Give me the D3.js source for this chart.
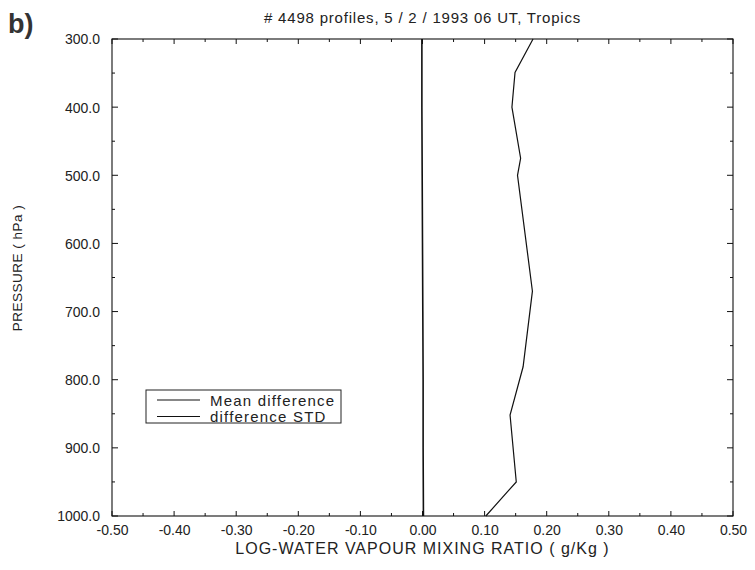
<!DOCTYPE html>
<html><head><meta charset="utf-8">
<script src="https://cdn.jsdelivr.net/npm/d3@7"></script>
<style>body{margin:0;background:#fff}svg{display:block}text{font-family:"Liberation Sans",Arial,sans-serif}</style>
</head><body>
<svg id="c" width="755" height="570"></svg>
<script>
const title = "# 4498 profiles, 5 / 2 / 1993 06 UT, Tropics";
const xTicks = [-0.5,-0.4,-0.3,-0.2,-0.1,0.0,0.1,0.2,0.3,0.4,0.5];
const yTicks = [300,400,500,600,700,800,900,1000];
const meanP = [300,400,500,600,700,800,900,1000];
const meanV = [-0.001,-0.001,-0.0005,0.0,0.0005,0.001,0.001,0.0015];
const stdP = [300,349,400,475,500,670,781,852,950,1000];
const stdV = [0.178,0.149,0.144,0.158,0.153,0.177,0.162,0.141,0.151,0.102];
const legendLabels = ["Mean difference","difference STD"];

const svg = d3.select("#c");
const L=112,R=733,T=39,B=516;
const x = d3.scaleLinear().domain([-0.5,0.5]).range([L,R]);
const y = d3.scaleLinear().domain([300,1000]).range([T,B]);
const minorX = d3.range(-0.5,0.5001,0.05);
const minorY = d3.range(300,1000.1,50);

const g = svg.append("g");
g.append("rect").attr("x",L).attr("y",T).attr("width",R-L).attr("height",B-T)
 .attr("fill","none").attr("stroke","#111").attr("stroke-width",1.1);

const tk = g.append("g").attr("stroke","#111").attr("stroke-width",1);
minorX.forEach((v,i)=>{
  const len = (i%2===0)?5:3;
  tk.append("line").attr("x1",x(v)).attr("x2",x(v)).attr("y1",B).attr("y2",B-len);
  tk.append("line").attr("x1",x(v)).attr("x2",x(v)).attr("y1",T).attr("y2",T+len);
});
minorY.forEach((v,i)=>{
  const len = (i%2===0)?6:3;
  tk.append("line").attr("y1",y(v)).attr("y2",y(v)).attr("x1",L).attr("x2",L+len);
  tk.append("line").attr("y1",y(v)).attr("y2",y(v)).attr("x1",R).attr("x2",R-len);
});

const xa = g.append("g").attr("transform",`translate(0,${B})`)
 .call(d3.axisBottom(x).tickValues(xTicks).tickFormat(d3.format(".2f")).tickSize(0).tickPadding(9));
const ya = g.append("g").attr("transform",`translate(${L-12},0)`)
 .call(d3.axisLeft(y).tickValues(yTicks).tickFormat(d3.format(".1f")).tickSize(0).tickPadding(0));
[xa,ya].forEach(a=>{a.select(".domain").remove();
  a.selectAll("text").attr("font-size",14).attr("fill","#222").style("font-family","'Liberation Sans',Arial,sans-serif");});
xa.selectAll("text").text(d=>d3.format(".2f")(d).replace("−","-"));
ya.selectAll("text").attr("dy","0.35em");

const line = (P,V)=>d3.line().x((d,i)=>x(V[i])).y((d,i)=>y(P[i]))(P);
g.append("path").attr("d",line(meanP,meanV)).attr("fill","none").attr("stroke","#111").attr("stroke-width",1.6);
g.append("path").attr("d",line(stdP,stdV)).attr("fill","none").attr("stroke","#111").attr("stroke-width",1.2);

svg.append("text").attr("x",(L+R)/2).attr("y",23).attr("text-anchor","middle")
 .attr("font-size",15).attr("letter-spacing",0.8).attr("fill","#222").text(title);
svg.append("text").attr("x",(L+R)/2).attr("y",554).attr("text-anchor","middle")
 .attr("font-size",16).attr("letter-spacing",1.0).attr("fill","#222").text("LOG-WATER VAPOUR MIXING RATIO ( g/Kg )");
svg.append("text").attr("transform",`translate(22,268) rotate(-90)`).attr("text-anchor","middle")
 .attr("font-size",13.5).attr("letter-spacing",0.5).attr("fill","#222").text("PRESSURE ( hPa )");
svg.append("text").attr("x",8).attr("y",33).attr("font-size",27).attr("font-weight","bold")
 .attr("fill","#333").text("b)");

const lg = svg.append("g");
lg.append("rect").attr("x",146).attr("y",390).attr("width",195).attr("height",33)
 .attr("fill","#fff").attr("stroke","#222").attr("stroke-width",1);
legendLabels.forEach((t,i)=>{
  const yy = 400 + i*16.5;
  lg.append("line").attr("x1",157).attr("x2",200).attr("y1",yy).attr("y2",yy).attr("stroke","#111").attr("stroke-width",1.1);
  lg.append("text").attr("x",210).attr("y",yy+5.5).attr("font-size",15).attr("letter-spacing",1.2).attr("fill","#222").text(t);
});
</script>
</body></html>
